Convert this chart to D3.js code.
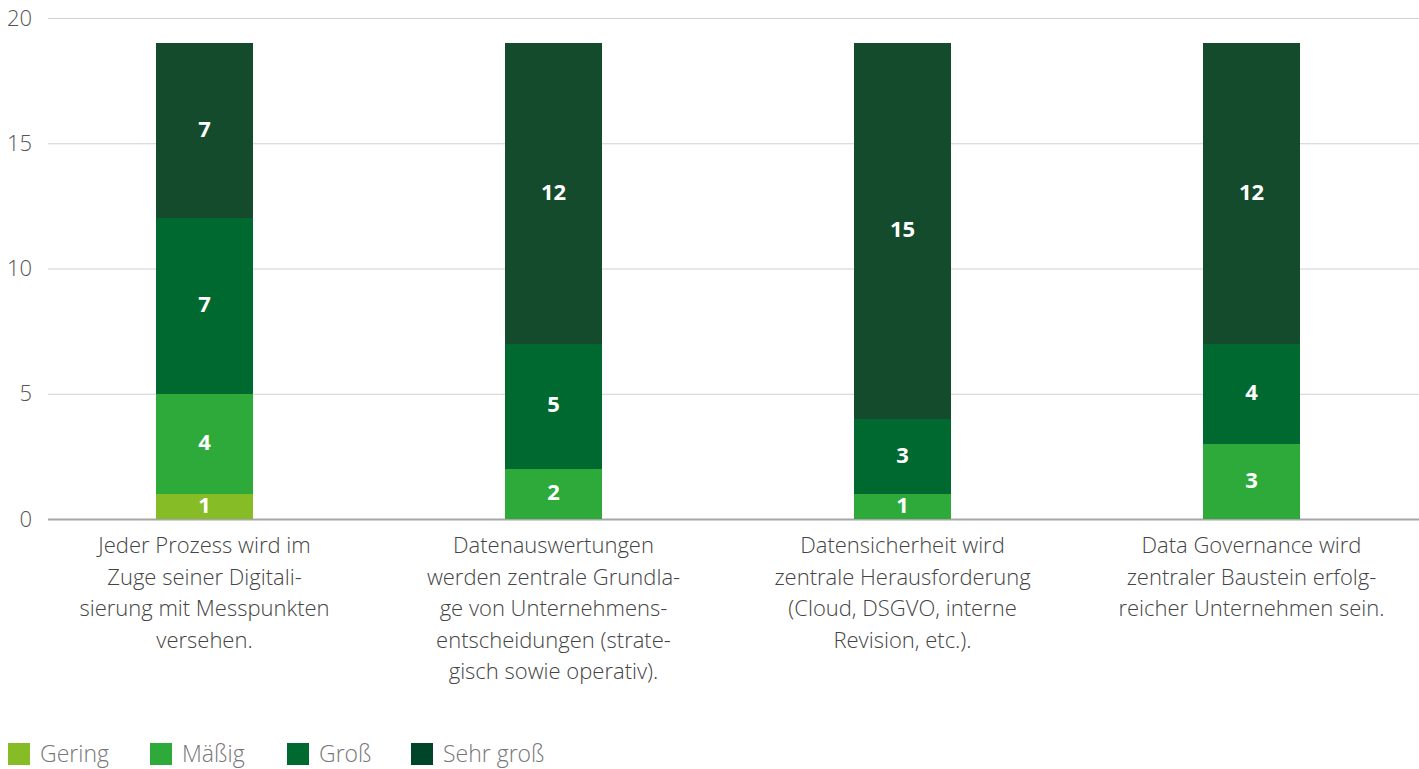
<!DOCTYPE html>
<html><head><meta charset="utf-8">
<script src="https://cdn.jsdelivr.net/npm/d3@7"></script>
<style>
body{margin:0;background:#fff;}
svg{display:block;font-family:"Open Sans",sans-serif;}
</style></head>
<body><svg id="c" width="1419" height="769"></svg>
<script>
const categories = [
  ["Jeder Prozess wird im","Zuge seiner Digitali-","sierung mit Messpunkten","versehen."],
  ["Datenauswertungen","werden zentrale Grundla-","ge von Unternehmens-","entscheidungen (strate-","gisch sowie operativ)."],
  ["Datensicherheit wird","zentrale Herausforderung","(Cloud, DSGVO, interne","Revision, etc.)."],
  ["Data Governance wird","zentraler Baustein erfolg-","reicher Unternehmen sein."]
];
const seriesNames = ["Gering","Mäßig","Groß","Sehr groß"];
const gering   = [1,0,0,0];
const maessig  = [4,2,1,3];
const gross    = [7,5,3,4];
const sehrGross= [7,12,15,12];
const yTicks = [0,5,10,15,20];
const colors = ["#86bc25","#2eaa3a","#006930","#154b2d"];
const legendColors = ["#86bc25","#2eaa3a","#006930","#00452a"];

const svg = d3.select("#c");
const y = d3.scaleLinear().domain([0,20]).range([519,18]);
const x = d3.scaleBand().domain(d3.range(categories.length)).range([30,1426]).paddingInner(0.722).paddingOuter(0.361);

// grid
svg.append("g").selectAll("line").data(yTicks).join("line")
  .attr("x1",48).attr("x2",1419).attr("y1",d=>y(d)+0.5).attr("y2",d=>y(d)+0.5)
  .attr("stroke",d=>d===0?"#a6a6a6":"#d0d0d0").attr("stroke-width",d=>d===0?2:1);
svg.append("g").selectAll("text").data(yTicks).join("text")
  .attr("x",32).attr("y",d=>y(d)).attr("dy","0.35em").attr("text-anchor","end")
  .attr("font-size",22).attr("font-weight",300).attr("fill","#555").text(d=>d);

const rows = categories.map((c,i)=>({i,Gering:gering[i],"Mäßig":maessig[i],"Groß":gross[i],"Sehr groß":sehrGross[i]}));
const stacked = d3.stack().keys(seriesNames)(rows);

const g = svg.append("g");
stacked.forEach((s,si)=>{
  s.forEach((d,i)=>{
    if(d[1]-d[0]<=0) return;
    g.append("rect").attr("x",x(i)).attr("width",x.bandwidth())
      .attr("y",y(d[1])).attr("height",y(d[0])-y(d[1])).attr("fill",colors[si])
      .attr("shape-rendering","crispEdges");
  });
});
stacked.forEach((s,si)=>{
  s.forEach((d,i)=>{
    if(d[1]-d[0]<=0) return;
    g.append("text").attr("x",x(i)+x.bandwidth()/2).attr("y",(y(d[0])+y(d[1]))/2)
      .attr("dy","0.28em").attr("text-anchor","middle").attr("fill","#fff")
      .attr("font-size",22).attr("font-weight",700).text(d[1]-d[0]);
  });
});

// category labels
categories.forEach((lines,i)=>{
  const t = svg.append("text").attr("text-anchor","middle").attr("font-size",22)
    .attr("font-weight",300).attr("fill","#444");
  lines.forEach((l,j)=>{
    t.append("tspan").attr("x",x(i)+x.bandwidth()/2).attr("y",553+j*31.5).text(l);
  });
});

// legend
const legX = [8,150,287,411];
seriesNames.forEach((n,i)=>{
  svg.append("rect").attr("x",legX[i]).attr("y",743).attr("width",22).attr("height",22).attr("fill",legendColors[i]);
  svg.append("text").attr("x",legX[i]+32).attr("y",754).attr("dy","0.35em")
    .attr("font-size",23).attr("font-weight",300).attr("fill","#777").text(n);
});
</script></body></html>
